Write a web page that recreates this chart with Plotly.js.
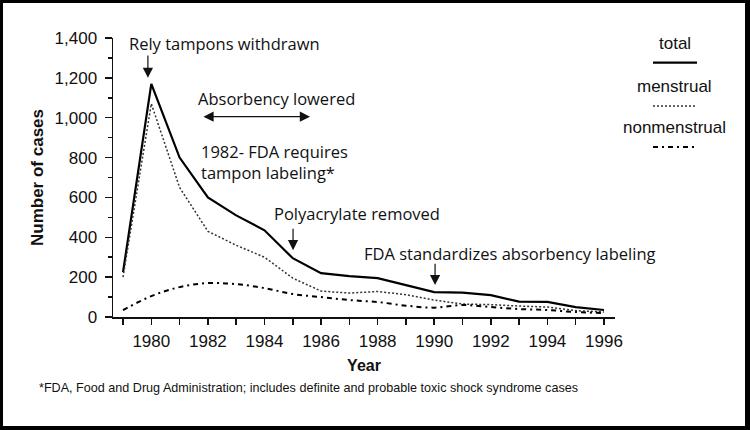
<!DOCTYPE html>
<html>
<head>
<meta charset="utf-8">
<script src="https://cdn.plot.ly/plotly-3.0.1.min.js"></script>
<style>
  html, body { margin: 0; padding: 0; background: #fff; }
  #wrap { position: relative; width: 750px; height: 430px; }
  #chart { width: 750px; height: 430px; }
  #frame { position: absolute; left: 0; top: 0; width: 750px; height: 430px; box-sizing: border-box;
           border-style: solid; border-color: #000; border-width: 3px 5px 4px 3px; pointer-events: none; }
</style>
</head>
<body>
<div id="wrap">
  <div id="chart"></div>
  <div id="frame"></div>
</div>
<script>
// ---- data ----
var years = [1979, 1980, 1981, 1982, 1983, 1984, 1985, 1986, 1987, 1988, 1989, 1990, 1991, 1992, 1993, 1994, 1995, 1996];
var total = [225, 1170, 800, 600, 510, 435, 295, 220, 205, 195, 160, 125, 122, 110, 77, 76, 50, 35];
var menstrual = [200, 1070, 650, 430, 360, 300, 195, 130, 120, 128, 112, 85, 65, 62, 55, 50, 32, 25];
var nonmenstrual = [35, 105, 150, 170, 165, 145, 115, 100, 85, 75, 57, 47, 60, 50, 40, 35, 25, 20];
var seriesNames = ["total", "menstrual", "nonmenstrual"];
var yTickVals = [0, 200, 400, 600, 800, 1000, 1200, 1400];
var xTickText = years.map(function (y) { return (y % 2 === 0) ? String(y) : ""; });

var events = [
  { text: "Rely tampons withdrawn", x: 1982.57, y: 1370 },
  { text: "Absorbency lowered", x: 1984.44, y: 1095 },
  { text: "1982- FDA requires<br>tampon labeling*", x: 1981.69, y: 780, left: true },
  { text: "Polyacrylate removed", x: 1987.27, y: 520 },
  { text: "FDA standardizes absorbency labeling", x: 1992.68, y: 320 }
];
var arrows = [
  { x: 1979.88, y: 1200, ax: 1979.88, ay: 1320 },
  { x: 1985.61, y: 1005, ax: 1981.79, ay: 1005, both: true },
  { x: 1985.01, y: 335, ax: 1985.01, ay: 450 },
  { x: 1990.03, y: 160, ax: 1990.03, ay: 275 }
];
var footnote = "*FDA, Food and Drug Administration; includes definite and probable toxic shock syndrome cases";

// ---- traces ----
var lineStyles = [
  { color: "#000", width: 2.2, dash: "solid" },
  { color: "#333", width: 1.5, dash: "2px,2px" },
  { color: "#000", width: 2, dash: "5px,4px,2px,4px" }
];
var seriesData = [total, menstrual, nonmenstrual];
var traces = seriesData.map(function (vals, i) {
  return {
    type: "scatter", mode: "lines", x: years, y: vals, name: seriesNames[i],
    line: { color: lineStyles[i].color, width: lineStyles[i].width, dash: lineStyles[i].dash,
            shape: i === 2 ? "spline" : "linear", smoothing: 1 },
    hoverinfo: "x+y+name"
  };
});

var annFont = { family: "'Open Sans', 'DejaVu Sans', sans-serif", size: 16.5, color: "#111" };
var annotations = [];
events.forEach(function (e) {
  annotations.push({
    xref: "x", yref: "y", x: e.x, y: e.y, text: e.text, showarrow: false,
    xanchor: e.left ? "left" : "center", yanchor: "middle", align: e.left ? "left" : "center",
    font: annFont
  });
});
arrows.forEach(function (a) {
  annotations.push({
    xref: "x", yref: "y", axref: "x", ayref: "y", x: a.x, y: a.y, ax: a.ax, ay: a.ay,
    text: "", showarrow: true, arrowhead: 2, startarrowhead: 2, arrowsize: 1.7, startarrowsize: 1.7,
    arrowwidth: 1.2, arrowcolor: "#111", arrowside: a.both ? "end+start" : "end", standoff: 0, startstandoff: 0
  });
});

// legend drawn as text over short line samples (paper coords)
var legFont = { family: "Arial, 'Liberation Sans', sans-serif", size: 17, color: "#111" };
var legTextY = [0.982, 0.8244, 0.681];
var legLineY = [0.9115, 0.7563, 0.6093];
var shapes = [];
seriesNames.forEach(function (n, i) {
  annotations.push({ xref: "paper", yref: "paper", x: 1.1195, y: legTextY[i], text: n, showarrow: false,
                     xanchor: "center", yanchor: "middle", font: legFont });
  shapes.push({ type: "line", xref: "paper", yref: "paper", x0: 1.0757, x1: 1.1633, y0: legLineY[i], y1: legLineY[i],
                line: { color: lineStyles[i].color, width: lineStyles[i].width, dash: lineStyles[i].dash } });
});

annotations.push({
  xref: "paper", yref: "paper", x: -0.151, y: -0.2545, xanchor: "left", yanchor: "middle",
  text: footnote, showarrow: false,
  font: { family: "Arial, 'Liberation Sans', sans-serif", size: 12.6, color: "#111" }
});

var tickFont = { family: "Arial, 'Liberation Sans', sans-serif", size: 17, color: "#111" };
var layout = {
  width: 750, height: 430,
  margin: { l: 113, r: 135, t: 38, b: 113, pad: 0 },
  paper_bgcolor: "#fff", plot_bgcolor: "#fff",
  showlegend: false,
  xaxis: {
    range: [1978.646, 1996.39], tickmode: "array", tickvals: years, ticktext: xTickText,
    ticks: "outside", ticklen: 6, tickwidth: 1.5, tickcolor: "#111",
    showline: true, linecolor: "#111", linewidth: 1.5, showgrid: false, zeroline: false,
    tickfont: tickFont, ticklabelstandoff: 2,
    title: { text: "Year", font: { family: "Arial, 'Liberation Sans', sans-serif", size: 16, color: "#111", weight: "bold" }, standoff: 10 },
    automargin: false, fixedrange: true
  },
  yaxis: {
    range: [0, 1400], tickmode: "array", tickvals: yTickVals, tickformat: ",d", separatethousands: true,
    ticks: "outside", ticklen: 7, tickwidth: 1.5, tickcolor: "#111",
    minor: { dtick: 100, ticks: "outside", ticklen: 4, tickwidth: 1.5, tickcolor: "#111", showgrid: false },
    showline: true, linecolor: "#111", linewidth: 1.5, showgrid: false, zeroline: false,
    tickfont: tickFont, ticklabelstandoff: 4,
    title: { text: "Number of cases", font: { family: "Arial, 'Liberation Sans', sans-serif", size: 17, color: "#111", weight: "bold" }, standoff: 6 },
    automargin: false, fixedrange: true
  },
  annotations: annotations,
  shapes: shapes
};

Plotly.newPlot("chart", traces, layout, { displayModeBar: false, staticPlot: true });
</script>
</body>
</html>
